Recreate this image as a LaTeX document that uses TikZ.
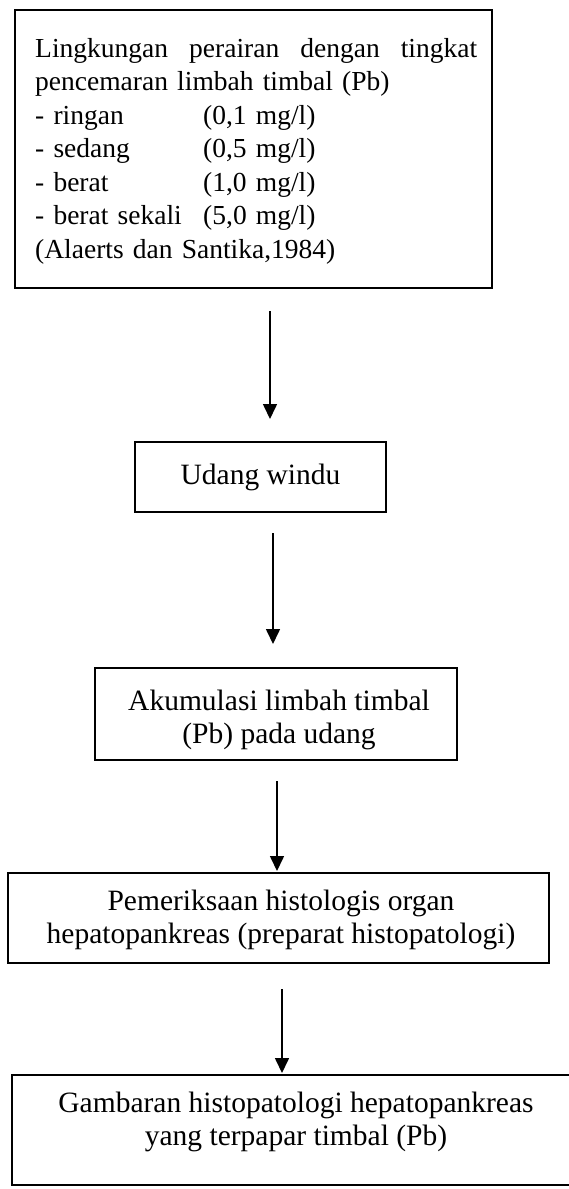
\documentclass[tikz,border=0pt]{standalone}
\usepackage{fontspec}
\setmainfont{Liberation Serif}
\usetikzlibrary{arrows.meta}
\newcommand{\bodyfnt}{\fontsize{29.5}{33}\selectfont}
\newcommand{\firstfnt}{\fontsize{27.5}{33.5}\selectfont}
\begin{document}
\begin{tikzpicture}[x=1pt,y=-1pt,
  boxstyle/.style={draw=black, line width=2pt, inner sep=0pt, align=center, font=\bodyfnt},
  txtstyle/.style={inner sep=0pt, font=\bodyfnt},
  arr/.style={line width=1.6pt, -{Triangle[width=14pt,length=15pt]}}]
\useasboundingbox[fill=white] (0,0) rectangle (568,1189);

% boxes
\node[boxstyle, minimum width=477pt, minimum height=278pt] (b1) at (253.5,149) {};
\node[txtstyle, font=\firstfnt, anchor=north west, text width=442pt, align=left] (t1) at (35,38)
 {\hbox to 442pt{Lingkungan\hfill perairan\hfill dengan\hfill tingkat}\\
  pencemaran limbah timbal (Pb)\\
  \makebox[168pt][l]{- ringan}(0,1 mg/l)\\
  \makebox[168pt][l]{- sedang}(0,5 mg/l)\\
  \makebox[168pt][l]{- berat}(1,0 mg/l)\\
  \makebox[168pt][l]{- berat sekali}(5,0 mg/l)\\
  (Alaerts dan Santika,1984)};

\node[boxstyle, minimum width=251pt, minimum height=70pt] (b2) at (260.5,477) {Udang windu};

\node[boxstyle, minimum width=362pt, minimum height=92pt] (b3) at (276,714) {};
\node[txtstyle, align=center] (t3) at (279,720)
 {Akumulasi limbah timbal\\ (Pb) pada udang};

\node[boxstyle, minimum width=541pt, minimum height=90pt] (b4) at (278.5,918) {};
\node[txtstyle, align=center] (t4) at (281,920)
 {Pemeriksaan histologis organ\\ hepatopankreas (preparat histopatologi)};

\node[boxstyle, minimum width=608pt, minimum height=110pt] (b5) at (316,1130) {};
\node[txtstyle, align=center] (t5) at (296,1121.5)
 {Gambaran histopatologi hepatopankreas\\ yang terpapar timbal (Pb)};

% connectors
\draw[arr, shorten <=22pt, shorten >=22pt] ([xshift=16.5pt]b1.south) -- ([xshift=9.5pt]b2.north);
\draw[arr, shorten <=20pt, shorten >=23pt] ([xshift=12.5pt]b2.south) -- ([xshift=-3pt]b3.north);
\draw[arr, shorten <=20pt, shorten >=1pt] ([xshift=1pt]b3.south) -- ([xshift=-1.5pt]b4.north);
\draw[arr, shorten <=25pt, shorten >=1pt] ([xshift=3.5pt]b4.south) -- ([xshift=-34pt]b5.north);
\end{tikzpicture}
\end{document}
